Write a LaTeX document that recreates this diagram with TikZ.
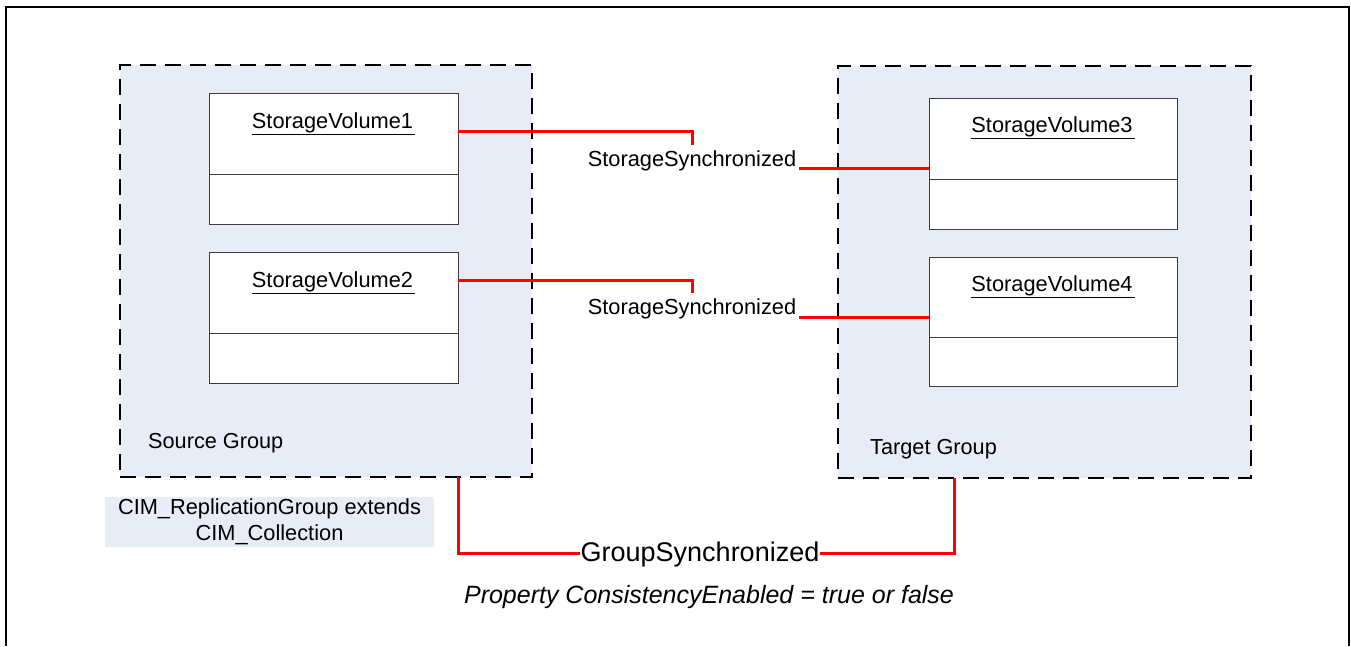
\documentclass[tikz,border=0pt]{standalone}
\usepackage{fontspec}
\setmainfont{Liberation Sans}
\definecolor{grpblue}{RGB}{231,236,246}
\definecolor{boxline}{RGB}{60,60,60}
\begin{document}
\begin{tikzpicture}[x=1pt,y=-1pt,
  group/.style={draw=black, line width=2.5pt, dash pattern=on 16pt off 9pt, fill=grpblue, inner sep=0pt, outer sep=0pt},
  vol/.style={draw=boxline, line width=1pt, fill=white, inner sep=0pt, outer sep=0pt, minimum width=249pt},
  divider/.style={draw=boxline, line width=1pt},
  conn/.style={draw=red, line width=3pt},
  voltitle/.style={inner sep=0pt, font=\fontsize{21.8}{26}\selectfont},
  grplabel/.style={inner sep=0pt, font=\fontsize{21.7}{26}\selectfont},
  synclabel/.style={inner sep=0pt, font=\fontsize{21.8}{26}\selectfont},
  frame/.style={draw=black, line width=2pt}
]
\useasboundingbox (0,0) rectangle (1351,646);
\coordinate (fbl) at (6,646);
\coordinate (ftl) at (6,7);
\coordinate (ftr) at (1349,7);
\coordinate (fbr) at (1349,646);
\draw[frame] (fbl) -- (ftl) -- (ftr) -- (fbr);

% groups
\node[group, minimum width=412pt, minimum height=412pt] (src) at (326,271) {};
\node[group, minimum width=413pt, minimum height=412pt] (tgt) at (1044.5,272) {};

% volumes
\node[vol, minimum height=131pt] (sv1) at (333.5,158.5) {};
\node[vol, minimum height=131pt] (sv2) at (333.5,317.5) {};
\node[vol, minimum height=131pt, minimum width=248pt] (sv3) at (1053,163.5) {};
\node[vol, minimum height=129pt, minimum width=248pt] (sv4) at (1053,321.5) {};

\draw[divider] ([yshift=50pt]sv1.south west) -- ([yshift=50pt]sv1.south east);
\draw[divider] ([yshift=50pt]sv2.south west) -- ([yshift=50pt]sv2.south east);
\draw[divider] ([yshift=50pt]sv3.south west) -- ([yshift=50pt]sv3.south east);
\draw[divider] ([yshift=49pt]sv4.south west) -- ([yshift=49pt]sv4.south east);

\node[voltitle, anchor=base] (sv1t) at ([yshift=-35pt]sv1.north) {\underline{StorageVolume1\kern2pt}};
\node[voltitle, anchor=base] (sv2t) at ([yshift=-35pt]sv2.north) {\underline{StorageVolume2\kern2pt}};
\node[voltitle, anchor=base] (sv3t) at ([yshift=-34pt]sv3.north) {\underline{StorageVolume3\kern2pt}};
\node[voltitle, anchor=base] (sv4t) at ([yshift=-34pt]sv4.north) {\underline{StorageVolume4\kern2pt}};

% group labels
\node[grplabel, anchor=base west] (srcl) at (148,448) {Source Group};
\node[grplabel, anchor=base west] (tgtl) at (870,454) {Target Group};

% CIM note
\node[fill=grpblue, inner sep=0pt, minimum width=329pt, minimum height=50pt, align=center,
      font=\fontsize{21.8}{26}\selectfont] (cim) at (269.5,522) {CIM\_ReplicationGroup extends\\CIM\_Collection};

% storage synchronized labels
\node[synclabel, anchor=base] (ss1) at (692,166) {StorageSynchronized};
\node[synclabel, anchor=base] (ss2) at (692,314) {StorageSynchronized};

\draw[conn] ([yshift=27.5pt]sv1.east) -| ([yshift=21pt]ss1.base);
\draw[conn] ([xshift=3pt,yshift=-2pt]ss1.base east) -- ([yshift=-2pt]ss1.base east -| sv3.west);
\draw[conn] ([yshift=37.5pt]sv2.east) -| ([yshift=21pt]ss2.base);
\draw[conn] ([xshift=3pt,yshift=-3pt]ss2.base east) -- ([yshift=-3pt]ss2.base east -| sv4.west);

% group synchronized
\node[inner sep=0pt, anchor=base, font=\fontsize{27}{32}\selectfont] (gs) at (700,561) {GroupSynchronized};
\coordinate (tport) at ([xshift=116pt]tgt.south west);
\draw[conn] (sv1.east |- src.south) |- ([yshift=8pt]gs.base west);
\draw[conn] ([yshift=8pt]gs.base east) -| (tport);

\node[inner sep=0pt, anchor=base, font=\fontsize{25}{30}\selectfont\itshape] (prop) at (709,603) {Property ConsistencyEnabled = true or false};
\end{tikzpicture}
\end{document}
